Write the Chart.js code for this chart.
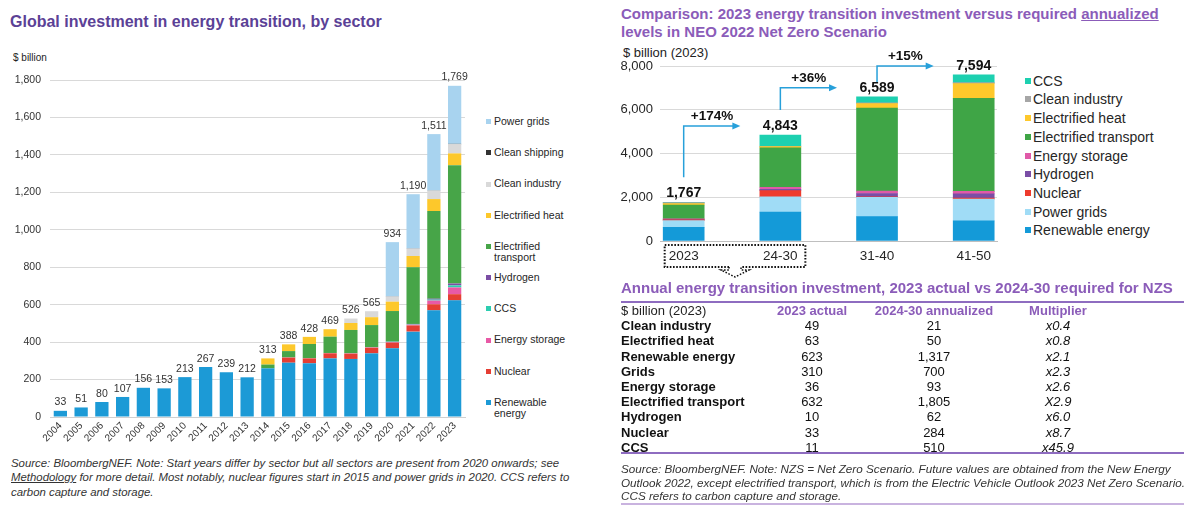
<!DOCTYPE html>
<html><head><meta charset="utf-8">
<script src="https://cdn.jsdelivr.net/npm/chart.js@4.4.1/dist/chart.umd.min.js"></script>
<style>
html,body{margin:0;padding:0;background:#fff;}
body{width:1200px;height:509px;position:relative;overflow:hidden;font-family:"Liberation Sans",Arial,sans-serif;color:#222;}
.abs{position:absolute;white-space:nowrap;}
canvas{position:absolute;}
.leg1{position:absolute;font-size:10.5px;line-height:11.6px;color:#262626;width:80px;white-space:normal;}
.leg1 i{position:absolute;left:-8px;top:3.3px;width:5px;height:5px;}
.leg2{position:absolute;font-size:14px;line-height:16px;color:#262626;white-space:nowrap;}
.leg2 i{position:absolute;left:-8px;top:5px;width:6px;height:6px;}
.cell{position:absolute;font-size:13px;line-height:15.2px;white-space:nowrap;color:#111;}
</style></head><body>

<div class="abs" style="left:10px;top:12px;font-size:16px;font-weight:bold;color:#5b4196;line-height:20px">Global investment in energy transition, by sector</div>
<div class="abs" style="left:13px;top:52px;font-size:10px;line-height:12px;color:#222">$ billion</div>
<canvas id="c1" width="480" height="395" style="left:0;top:60px"></canvas>
<div id="leg1"></div>
<div class="abs" style="left:11px;top:455.5px;font-size:11.4px;line-height:14.8px;font-style:italic;color:#333">Source: BloombergNEF. Note: Start years differ by sector but all sectors are present from 2020 onwards; see<br><u>Methodology</u> for more detail. Most notably, nuclear figures start in 2015 and power grids in 2020. CCS refers to<br>carbon capture and storage.</div>

<div class="abs" style="left:621px;top:5px;font-size:15px;font-weight:bold;color:#8b5cb9;line-height:18px">Comparison: 2023 energy transition investment versus required <u>annualized</u><br>levels in NEO 2022 Net Zero Scenario</div>
<div class="abs" style="left:623px;top:45px;font-size:13px;line-height:16px;color:#222">$ billion (2023)</div>
<canvas id="c2" width="400" height="245" style="left:610px;top:40px"></canvas>
<div id="leg2"></div>

<div class="abs" style="left:621px;top:279px;font-size:15px;font-weight:bold;color:#8b5cb9;line-height:18px">Annual energy transition investment, 2023 actual vs 2024-30 required for NZS</div>
<div style="position:absolute;left:621px;top:300.5px;width:563px;height:2px;background:#8e6cc0"></div>
<div id="table"></div>
<div style="position:absolute;left:621px;top:452.3px;width:563px;height:2px;background:#8e6cc0"></div>
<div class="abs" style="left:621px;top:462px;font-size:11.7px;line-height:13.6px;font-style:italic;color:#333">Source: BloombergNEF. Note: NZS = Net Zero Scenario. Future values are obtained from the New Energy<br>Outlook 2022, except electrified transport, which is from the Electric Vehicle Outlook 2023 Net Zero Scenario.<br>CCS refers to carbon capture and storage.</div>
<div style="position:absolute;left:621px;top:503px;width:563px;height:2px;background:#c9b3df"></div>

<script>
// ---------- Left chart data ----------
const leftYears = ['2004','2005','2006','2007','2008','2009','2010','2011','2012','2013','2014','2015','2016','2017','2018','2019','2020','2021','2022','2023'];
const leftRenewable = [33,51,80,107,156,153,213,267,239,212,260,290,287,313,310,340,367,456,570,623];
const leftNuclear   = [0,0,0,0,0,0,0,0,0,0,0,27,26,27,28,30,30,33,32,33];
const leftStorage   = [0,0,0,0,0,0,0,0,0,0,0,1,1,2,2,2,3,4,20,36];
const leftCCS       = [0,0,0,0,0,0,0,0,0,0,0,0,0,0,0,1,2,2,5,11];
const leftHydrogen  = [0,0,0,0,0,0,0,0,0,0,0,0,0,0,0,0,1,2,5,10];
const leftTransport = [0,0,0,0,0,0,0,0,0,0,20,34,76,87,125,118,163,303,468,632];
const leftHeat      = [0,0,0,0,0,0,0,0,0,0,33,36,38,40,37,42,50,60,64,63];
const leftIndustry  = [0,0,0,0,0,0,0,0,0,0,0,0,0,0,24,32,27,39,45,49];
const leftShipping  = [0,0,0,0,0,0,0,0,0,0,0,0,0,0,0,0,1,1,1,2];
const leftGrids     = [0,0,0,0,0,0,0,0,0,0,0,0,0,0,0,0,290,290,301,310];
const leftTotals    = [33,51,80,107,156,153,213,267,239,212,313,388,428,469,526,565,934,1190,1511,1769];
const leftYTicks = [0,200,400,600,800,1000,1200,1400,1600,1800];

// ---------- Right chart data ----------
const rightPeriods = ['2023','24-30','31-40','41-50'];
const rRenewable = [623,1317,1117,920];
const rGrids     = [310,700,874,997];
const rNuclear   = [33,284,30,40];
const rHydrogen  = [10,62,150,200];
const rStorage   = [36,93,110,110];
const rTransport = [632,1805,3800,4250];
const rHeat      = [63,50,200,680];
const rIndustry  = [49,21,40,40];
const rCCS       = [11,510,268,357];
const rTotals    = [1767,4843,6589,7594];
const growthLabels = ['+174%','+36%','+15%'];

// ---------- Table data ----------
const tableSectors = ['Clean industry','Electrified heat','Renewable energy','Grids','Energy storage','Electrified transport','Hydrogen','Nuclear','CCS'];
const tableActual2023 = [49,63,623,310,36,632,10,33,11];
const tableRequired2430 = [21,50,1317,700,93,1805,62,284,510];
const tableMultiplier = ['x0.4','x0.8','x2.1','x2.3','x2.6','X2.9','x6.0','x8.7','x45.9'];

const FONT = '"Liberation Sans", Arial, sans-serif';
Chart.defaults.font.family = FONT;

// ---------- Left chart ----------
const leftSeries = [
  ['Renewable energy', leftRenewable, '#1c9ad6'],
  ['Nuclear', leftNuclear, '#e53e33'],
  ['Energy storage', leftStorage, '#e859a6'],
  ['CCS', leftCCS, '#2ccdb0'],
  ['Hydrogen', leftHydrogen, '#7b4ea4'],
  ['Electrified transport', leftTransport, '#47a548'],
  ['Electrified heat', leftHeat, '#fdc82b'],
  ['Clean industry', leftIndustry, '#d9d9d9'],
  ['Clean shipping', leftShipping, '#333333'],
  ['Power grids', leftGrids, '#a8d3ef']
];

const leftTotalsPlugin = {
  id: 'leftTotals',
  afterDatasetsDraw(chart) {
    const {ctx, scales: {y}} = chart;
    const meta = chart.getDatasetMeta(0);
    ctx.save();
    ctx.font = '10.5px ' + FONT;
    ctx.fillStyle = '#333';
    ctx.textAlign = 'center';
    ctx.textBaseline = 'bottom';
    leftTotals.forEach((v, i) => {
      ctx.fillText(v.toLocaleString('en-US'), meta.data[i].x, y.getPixelForValue(v) - 3);
    });
    ctx.restore();
  }
};

new Chart(document.getElementById('c1'), {
  type: 'bar',
  data: {
    labels: leftYears,
    datasets: leftSeries.map(([label, data, color]) => ({label, data, backgroundColor: color, borderWidth: 0}))
  },
  options: {
    responsive: false, animation: false,
    categoryPercentage: 0.64, barPercentage: 1,
    layout: {padding: {left: 0, right: 15, top: 20, bottom: 0}},
    plugins: {legend: {display: false}, tooltip: {enabled: false}},
    scales: {
      x: {
        stacked: true,
        grid: {display: false, drawTicks: false},
        border: {display: true, color: '#d0d0d0'},
        ticks: {minRotation: 45, maxRotation: 45, autoSkip: false, font: {size: 10}, color: '#333', padding: 3},
        afterFit: s => { s.height = 38; }
      },
      y: {
        stacked: true, min: 0, max: 1800,
        afterBuildTicks: s => { s.ticks = leftYTicks.map(v => ({value: v})); },
        ticks: {font: {size: 10.5}, color: '#333', padding: 9},
        grid: {color: '#d9d9d9', drawTicks: false},
        border: {display: false},
        afterFit: s => { s.width = 50; }
      }
    }
  },
  plugins: [leftTotalsPlugin]
});

// left legend (top to bottom = reverse stack order)
(function () {
  const el = document.getElementById('leg1');
  leftSeries.slice().reverse().forEach(([label, , color], k) => {
    const d = document.createElement('div');
    d.className = 'leg1';
    d.style.left = '494px';
    d.style.top = (121.7 + 31.2 * k - 5.8) + 'px';
    d.innerHTML = '<i style="background:' + color + '"></i>' + label;
    el.appendChild(d);
  });
})();

// ---------- Right chart ----------
const rightSeries = [
  ['Renewable energy', rRenewable, '#149ad8'],
  ['Power grids', rGrids, '#a0dcf6'],
  ['Nuclear', rNuclear, '#ee3b2d'],
  ['Hydrogen', rHydrogen, '#7a4ea6'],
  ['Energy storage', rStorage, '#e05aa8'],
  ['Electrified transport', rTransport, '#3fa546'],
  ['Electrified heat', rHeat, '#fec82b'],
  ['Clean industry', rIndustry, '#a6a6a6'],
  ['CCS', rCCS, '#1dd0b0']
];

const rightDecor = {
  id: 'rightDecor',
  afterDatasetsDraw(chart) {
    const {ctx, scales: {x, y}, chartArea} = chart;
    ctx.save();
    const labelY = rTotals.map(v => y.getPixelForValue(v) - 9);
    ctx.font = 'bold 14px ' + FONT;
    ctx.fillStyle = '#111';
    ctx.textAlign = 'center';
    ctx.textBaseline = 'middle';
    rTotals.forEach((v, i) => ctx.fillText(v.toLocaleString('en-US'), x.getPixelForValue(i), labelY[i]));

    const blue = '#27a0da';
    growthLabels.forEach((t, i) => {
      const x0 = x.getPixelForValue(i);
      const hy = labelY[i + 1];
      const y0 = Math.max(labelY[i] - 16, hy + 16);
      const x1 = x.getPixelForValue(i + 1) - 40;
      ctx.strokeStyle = blue; ctx.fillStyle = blue; ctx.lineWidth = 1.5;
      ctx.beginPath(); ctx.moveTo(x0, y0); ctx.lineTo(x0, hy); ctx.lineTo(x1 - 6, hy); ctx.stroke();
      ctx.beginPath(); ctx.moveTo(x1, hy); ctx.lineTo(x1 - 8, hy - 3.5); ctx.lineTo(x1 - 8, hy + 3.5); ctx.closePath(); ctx.fill();
      ctx.fillStyle = '#111';
      ctx.font = 'bold 13.5px ' + FONT;
      ctx.fillText(t, (x0 + x1) / 2, hy - 10);
    });

    // dotted box around 2023 and 24-30 labels with a small dotted arrow
    const L = x.getPixelForValue(0) - 19, R = x.getPixelForValue(1) + 25;
    const T = chartArea.bottom + 4, B = chartArea.bottom + 26;
    const c = (L + R) / 2;
    ctx.strokeStyle = '#111'; ctx.lineWidth = 2; ctx.setLineDash([1.6, 1.6]);
    ctx.beginPath();
    ctx.moveTo(c - 6, B); ctx.lineTo(L, B); ctx.lineTo(L, T); ctx.lineTo(R, T); ctx.lineTo(R, B); ctx.lineTo(c + 6, B);
    ctx.stroke();
    ctx.lineWidth = 1.5;
    ctx.beginPath();
    ctx.moveTo(c - 6, B); ctx.lineTo(c - 6, B + 3); ctx.lineTo(c - 14, B + 3); ctx.lineTo(c, B + 10);
    ctx.lineTo(c + 14, B + 3); ctx.lineTo(c + 6, B + 3); ctx.lineTo(c + 6, B);
    ctx.stroke();
    ctx.restore();
  }
};

new Chart(document.getElementById('c2'), {
  type: 'bar',
  data: {
    datasets: rightSeries.map(([label, data, color]) => ({
      label, data: data.map((v, i) => ({x: i, y: v})), backgroundColor: color, borderWidth: 0, barThickness: 41
    }))
  },
  options: {
    responsive: false, animation: false,
    layout: {padding: {left: 0, right: 13, top: 26, bottom: 0}},
    plugins: {legend: {display: false}, tooltip: {enabled: false}},
    scales: {
      x: {
        type: 'linear', stacked: true, min: -0.245, max: 3.241, offset: false,
        grid: {display: false, drawTicks: false, offset: false},
        border: {display: true, color: '#bfbfbf'},
        afterBuildTicks: s => { s.ticks = rightPeriods.map((_, i) => ({value: i})); },
        ticks: {callback: v => rightPeriods[v], font: {size: 13.5}, color: '#262626', padding: 7, maxRotation: 0, autoSkip: false},
        afterFit: s => { s.height = 44; }
      },
      y: {
        stacked: true, min: 0, max: 8000,
        ticks: {stepSize: 2000, font: {size: 13}, color: '#262626', padding: 7},
        grid: {color: '#d9d9d9', drawTicks: false},
        border: {display: false},
        afterFit: s => { s.width = 50; }
      }
    }
  },
  plugins: [rightDecor]
});

// right legend
(function () {
  const el = document.getElementById('leg2');
  rightSeries.slice().reverse().forEach(([label, , color], k) => {
    const d = document.createElement('div');
    d.className = 'leg2';
    d.style.left = '1033px';
    d.style.top = (80.7 + 18.7 * k - 8) + 'px';
    d.innerHTML = '<i style="background:' + color + '"></i>' + label;
    el.appendChild(d);
  });
})();

// table
(function () {
  const el = document.getElementById('table');
  const colC = [812, 934, 1058];
  const top0 = 303;
  function cell(text, left, top, style, center) {
    const d = document.createElement('div');
    d.className = 'cell';
    d.style.top = top + 'px';
    if (center) { d.style.left = (left - 80) + 'px'; d.style.width = '160px'; d.style.textAlign = 'center'; }
    else d.style.left = left + 'px';
    if (style) d.style.cssText += style;
    d.textContent = text;
    el.appendChild(d);
  }
  const hdr = 'font-weight:bold;color:#8b5cb9;';
  cell('$ billion (2023)', 621, top0, 'color:#222;');
  cell('2023 actual', colC[0], top0, hdr, true);
  cell('2024-30 annualized', colC[1], top0, hdr, true);
  cell('Multiplier', colC[2], top0, hdr, true);
  tableSectors.forEach((s, k) => {
    const t = top0 + 15.2 * (k + 1);
    cell(s, 621, t, 'font-weight:bold;');
    cell(tableActual2023[k].toLocaleString('en-US'), colC[0], t, '', true);
    cell(tableRequired2430[k].toLocaleString('en-US'), colC[1], t, '', true);
    cell(tableMultiplier[k], colC[2], t, 'font-style:italic;', true);
  });
})();
</script>
</body></html>
